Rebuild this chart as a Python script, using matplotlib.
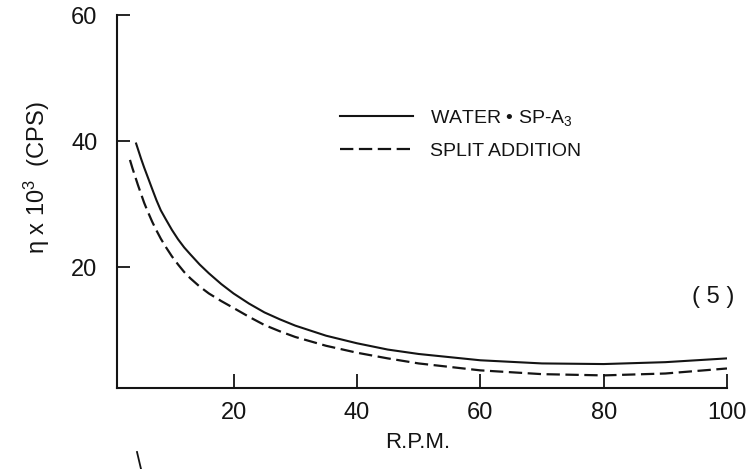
import matplotlib.pyplot as plt
from matplotlib.lines import Line2D

# values
rpm_water = [4.2, 5, 5.5, 6, 6.8, 7.5, 8.2, 9, 10, 11, 12, 13, 14.5, 16, 18, 20,
             22.5, 25, 27.5, 30, 35, 40, 45, 50, 60, 70, 80, 90, 100]
visc_water = [39.6, 37.2, 35.8, 34.5, 32.4, 30.6, 29.0, 27.6, 25.9, 24.4, 23.1, 22.0,
              20.4, 19.0, 17.3, 15.8, 14.2, 12.8, 11.7, 10.7, 9.1, 7.9, 6.9, 6.2,
              5.2, 4.7, 4.6, 4.9, 5.5]

rpm_split = [3.2, 3.6, 4, 4.5, 5, 5.5, 6, 6.8, 7.5, 8.2, 9, 10, 11, 12, 13, 14.5,
             16, 18, 20, 22.5, 25, 27.5, 30, 35, 40, 45, 50, 60, 70, 80, 90, 100]
visc_split = [37.0, 35.7, 34.5, 33.0, 31.6, 30.2, 29.0, 27.2, 25.8, 24.5, 23.2, 21.7,
              20.4, 19.2, 18.2, 16.9, 15.8, 14.6, 13.5, 12.1, 10.8, 9.8, 8.9, 7.5,
              6.4, 5.5, 4.7, 3.6, 3.0, 2.8, 3.1, 3.9]

x_ticks = [20, 40, 60, 80, 100]
y_ticks = [20, 40, 60]

INK = "#141414"
FONT = ["Liberation Sans", "DejaVu Sans"]
plt.rcParams["font.family"] = FONT
plt.rcParams["mathtext.fontset"] = "custom"
plt.rcParams["mathtext.rm"] = "Liberation Sans"
plt.rcParams["mathtext.it"] = "Liberation Sans"

fig = plt.figure(figsize=(7.56, 4.69), dpi=100)
# axes box: left spine at x=117 px, bottom spine at y=388 px, top at y=15 px
ax = fig.add_axes([117 / 756, 1 - 388 / 469, 610 / 756, 373 / 469])

ax.plot(rpm_water, visc_water, color=INK, lw=1.5, label="WATER \u2022 SP-A$_3$")
ax.plot(rpm_split, visc_split, color=INK, lw=1.6, dashes=(6, 2.5),
        label="SPLIT ADDITION")

ax.set_xlim(1.1, 100)
ax.set_ylim(0.8, 60)
ax.set_xticks(x_ticks)
ax.set_yticks(y_ticks)
ax.tick_params(direction="in", length=10, width=1.3, colors=INK,
               labelsize=17, pad=10)
ax.tick_params(axis="y", length=9, pad=14)

for side in ["top", "right"]:
    ax.spines[side].set_visible(False)
for side in ["left", "bottom"]:
    ax.spines[side].set_linewidth(1.5)
    ax.spines[side].set_color(INK)

# axis titles placed like the scan
fig.text(418 / 756, 1 - 442 / 469, "R.P.M.", ha="center", va="center",
         fontsize=16, color=INK)
fig.text(37 / 756, 1 - 178 / 469, "\u03b7 x 10$^3$  (CPS)", ha="center",
         va="center", rotation=90, fontsize=17, color=INK)
fig.text(713 / 756, 1 - 297 / 469, "( 5 )", ha="center", va="center",
         fontsize=17, color=INK)

ax.legend(loc="upper left", bbox_to_anchor=((340 - 117) / 610, (388 - 108) / 373),
          frameon=False, fontsize=14, handlelength=3.75, handletextpad=0.9,
          labelspacing=0.75, borderpad=0, borderaxespad=0, labelcolor=INK)

# small stray mark in the scan, bottom left
fig.add_artist(Line2D([137 / 756, 141 / 756], [1 - 452 / 469, 1 - 469 / 469],
                      color=INK, lw=1.3))

fig.savefig("out.png", dpi=100, facecolor="white")
